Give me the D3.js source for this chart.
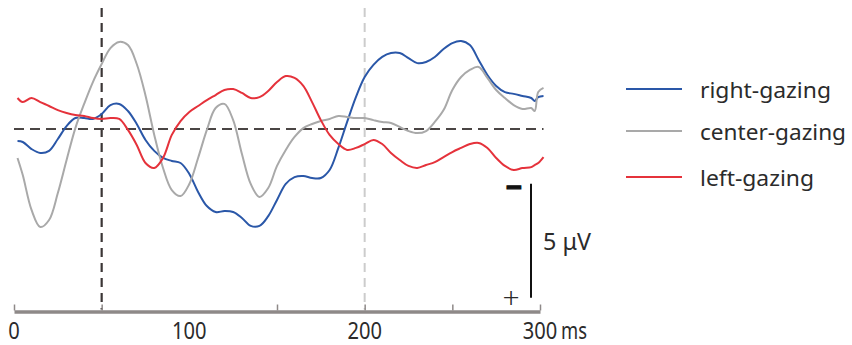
<!DOCTYPE html>
<html>
<head>
<meta charset="utf-8">
<script src="https://cdn.jsdelivr.net/npm/d3@7"></script>
<style>
  html, body { margin: 0; padding: 0; background: #fff; }
  svg { display: block; }
  text { font-family: "Noto Sans", "Liberation Sans", sans-serif; fill: #2b2b2b; }
</style>
</head>
<body>
<svg id="chart" width="852" height="345"></svg>
<script>
// ---- data (time in ms, amplitude in μV; positive plotted downward) ----
const times = [2, 5, 10, 15, 20, 25, 30, 35, 40, 45, 50, 55, 60, 65, 70, 75, 80, 85, 90, 95,
  100, 105, 110, 115, 120, 125, 130, 135, 140, 145, 150, 155, 160, 165, 170, 175, 180, 185, 190, 195,
  200, 205, 210, 215, 220, 225, 230, 235, 240, 245, 250, 255, 260, 265, 270, 275, 280, 285, 290, 295,
  297, 299, 302];

const rightGazing = [0.53, 0.57, 0.88, 1.05, 0.96, 0.44, -0.13, -0.48, -0.48, -0.44, -0.66, -1.05, -1.10, -0.79, -0.22, 0.48, 0.96, 1.27, 1.40, 1.49,
  1.97, 2.76, 3.38, 3.64, 3.60, 3.64, 3.90, 4.25, 4.25, 3.82, 3.11, 2.41, 2.11, 2.06, 2.15, 2.15, 1.80, 0.83, -0.31, -1.40,
  -2.28, -2.81, -3.16, -3.33, -3.33, -3.11, -2.89, -2.94, -3.16, -3.51, -3.77, -3.86, -3.68, -3.03, -2.37, -1.89, -1.62, -1.54, -1.45, -1.36,
  -1.23, -1.40, -1.45];

const centerGazing = [1.27, 2.02, 3.55, 4.30, 3.99, 2.81, 1.36, -0.04, -1.10, -2.06, -2.85, -3.55, -3.82, -3.68, -2.85, -1.47, 0.26, 1.71, 2.68, 2.94,
  2.41, 1.27, 0.04, -0.92, -1.10, -0.39, 1.10, 2.41, 2.98, 2.59, 1.62, 0.92, 0.35, -0.04, -0.22, -0.35, -0.44, -0.57, -0.53, -0.48,
  -0.48, -0.39, -0.31, -0.26, -0.09, 0.09, 0.18, 0.09, -0.31, -0.83, -1.71, -2.28, -2.59, -2.72, -2.24, -1.71, -1.36, -1.05, -0.88, -0.92,
  -0.79, -1.62, -1.80];

const leftGazing = [-1.36, -1.18, -1.36, -1.18, -1.01, -0.83, -0.70, -0.61, -0.57, -0.48, -0.44, -0.48, -0.44, 0.04, 0.70, 1.49, 1.71, 1.27, 0.26, -0.35,
  -0.75, -1.01, -1.27, -1.49, -1.71, -1.75, -1.58, -1.36, -1.40, -1.67, -2.06, -2.32, -2.24, -1.89, -1.18, -0.39, 0.26, 0.66, 0.92, 0.83,
  0.66, 0.48, 0.66, 1.05, 1.36, 1.62, 1.71, 1.58, 1.45, 1.23, 1.01, 0.83, 0.66, 0.61, 0.83, 1.27, 1.62, 1.80, 1.71, 1.67,
  1.58, 1.49, 1.23];

const seriesNames = ["right-gazing", "center-gazing", "left-gazing"];
const seriesColors = ["#2a57a8", "#a9a9a9", "#e5323b"];
const xTicks = [0, 50, 150, 200, 250, 300];
const xTickLabels = [0, 100, 200, 300];
const markerTimes = [50, 200];
const scaleBarRange = [2.4, 7.4]; // 5 μV
const scaleBarLabel = "5 μV";
const unitLabel = "ms";

// ---- drawing ----
const svg = d3.select("#chart");
const x = d3.scaleLinear().domain([0, 300]).range([14, 540]);
const y = d3.scaleLinear().domain([-5, 5]).range([15, 243]);
const axisY = 311.5;

const allSeries = [rightGazing, centerGazing, leftGazing];
allSeries.forEach(s => { if (s.length !== times.length) throw new Error("length mismatch " + s.length); });

// marker dashed lines
svg.append("line")
  .attr("x1", x(markerTimes[1])).attr("x2", x(markerTimes[1]))
  .attr("y1", 8).attr("y2", axisY - 2)
  .attr("stroke", "#cccccc").attr("stroke-width", 2)
  .attr("stroke-dasharray", "9,6");

svg.append("line")
  .attr("x1", x(markerTimes[0])).attr("x2", x(markerTimes[0]))
  .attr("y1", 8).attr("y2", axisY - 2)
  .attr("stroke", "#3b3636").attr("stroke-width", 2.2)
  .attr("stroke-dasharray", "9,6");

// zero line
svg.append("line")
  .attr("x1", x(0)).attr("x2", x(302))
  .attr("y1", y(0)).attr("y2", y(0))
  .attr("stroke", "#4a4544").attr("stroke-width", 1.8)
  .attr("stroke-dasharray", "10,6");

// x axis
const axis = d3.axisBottom(x).tickValues(xTicks).tickSize(0).tickFormat("");
const gAxis = svg.append("g").attr("transform", `translate(0,${axisY})`).call(axis);
gAxis.select(".domain").attr("stroke", "#8e8988").attr("stroke-width", 3.5);
gAxis.selectAll(".tick").append("line")
  .attr("y1", -1).attr("y2", -7)
  .attr("stroke", "#8e8988").attr("stroke-width", 1.5);

svg.selectAll("text.xlab").data(xTickLabels).enter().append("text")
  .attr("class", "xlab")
  .attr("x", d => x(d)).attr("y", 339)
  .attr("text-anchor", "middle")
  .attr("font-size", 23)
  .attr("textLength", d => String(d).length * 11.5)
  .attr("lengthAdjust", "spacingAndGlyphs")
  .text(d => d);
svg.append("text")
  .attr("x", x(300) + 21).attr("y", 339)
  .attr("font-size", 23)
  .attr("textLength", 26)
  .attr("lengthAdjust", "spacingAndGlyphs")
  .text(unitLabel);

// series lines
const line = d3.line()
  .x((d, i) => x(times[i]))
  .y(d => y(d))
  .curve(d3.curveCatmullRom.alpha(0.5));

allSeries.forEach((s, k) => {
  svg.append("path")
    .datum(s)
    .attr("fill", "none")
    .attr("stroke", seriesColors[k])
    .attr("stroke-width", 2)
    .attr("stroke-linejoin", "round")
    .attr("d", line);
});

// scale bar
const sbX = 531;
svg.append("line")
  .attr("x1", sbX).attr("x2", sbX)
  .attr("y1", y(scaleBarRange[0])).attr("y2", y(scaleBarRange[1]))
  .attr("stroke", "#111").attr("stroke-width", 2);
svg.append("text")
  .attr("x", 514).attr("y", y(scaleBarRange[0]) + 13)
  .attr("text-anchor", "middle")
  .attr("font-size", 28).attr("font-weight", "bold")
  .style("fill", "#111").attr("stroke", "#111").attr("stroke-width", 1.4)
  .text("−");
svg.append("text")
  .attr("x", 511).attr("y", y(scaleBarRange[1]) + 10)
  .attr("text-anchor", "middle")
  .attr("font-size", 30)
  .attr("font-weight", 300)
  .text("+");
svg.append("text")
  .attr("x", 543).attr("y", 250)
  .attr("font-size", 23)
  .attr("textLength", 48)
  .attr("lengthAdjust", "spacingAndGlyphs")
  .text(scaleBarLabel);

// legend
const legendY = [89, 131, 177];
const legendTextWidth = [131, 146, 114];
seriesNames.forEach((name, k) => {
  svg.append("line")
    .attr("x1", 626).attr("x2", 682)
    .attr("y1", legendY[k]).attr("y2", legendY[k])
    .attr("stroke", seriesColors[k]).attr("stroke-width", 2);
  svg.append("text")
    .attr("x", 700).attr("y", legendY[k] + 9)
    .attr("font-size", 22.5)
    .attr("textLength", legendTextWidth[k])
    .attr("lengthAdjust", "spacingAndGlyphs")
    .text(name);
});
</script>
</body>
</html>
